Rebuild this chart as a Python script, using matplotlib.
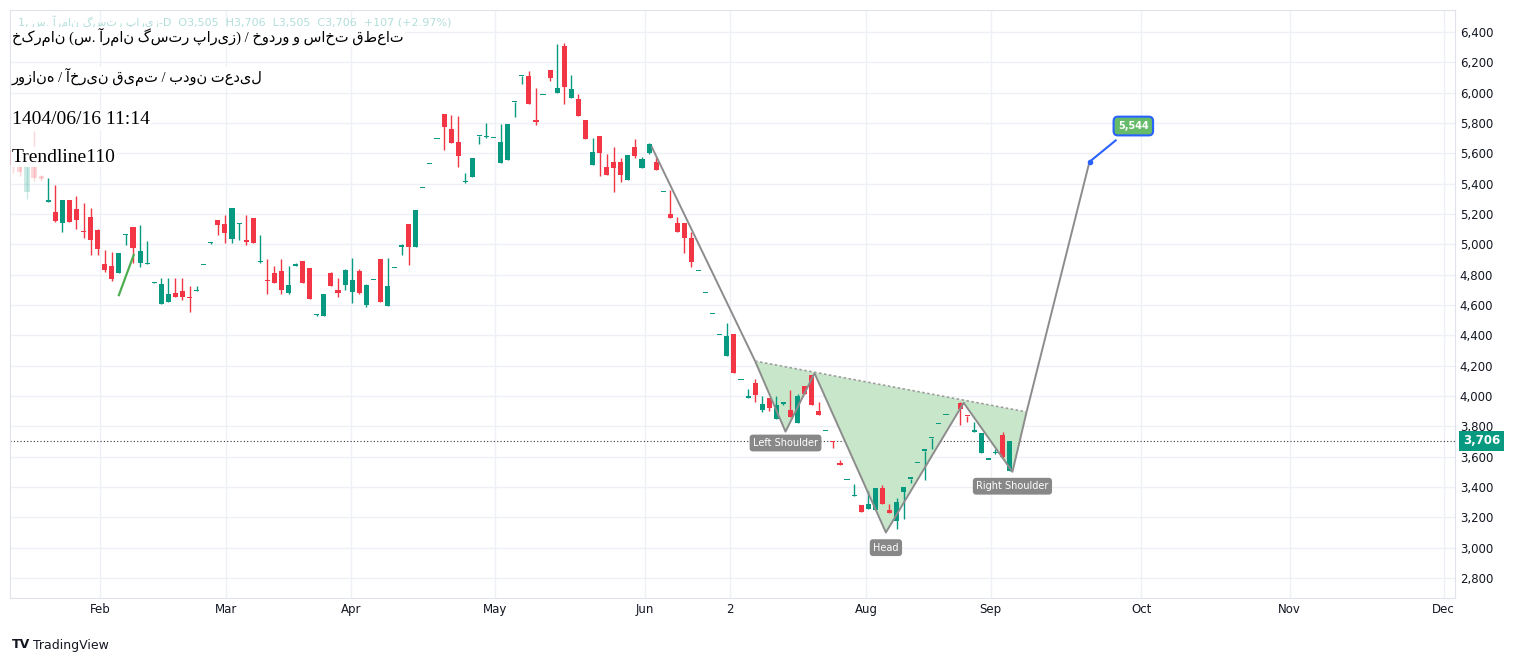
import numpy as np
import matplotlib
matplotlib.use("Agg")
import matplotlib.pyplot as plt
from matplotlib.patches import Polygon, Rectangle

# daily candles, one per trading bar (bar index = list position)
opens = [5620, 5520, 5345, 5560, 5450, 5280, 5210, 5140, 5290, 5230, 5090, 5180, 5095, 4870, 4860, 4810, 5060, 5115, 4880, 4870,
         4745, 4605, 4620, 4680, 4690, 4650, 4690, 4865, 5010, 5160, 5135, 5035, 5135, 5030, 5175, 4885, 4760, 4810, 4825, 4680,
         4860, 4890, 4845, 4535, 4530, 4810, 4700, 4730, 4685, 4825, 4600, 4765, 4905, 4595, 4845, 4985, 5135, 4985, 5370, 5530,
         5695, 5860, 5760, 5675, 5410, 5445, 5715, 5705, 5700, 5535, 5555, 5940, 6110, 6110, 5820, 5985, 6150, 5995, 6310, 5965,
         5960, 5820, 5520, 5715, 5510, 5545, 5545, 5425, 5640, 5505, 5600, 5545, 5345, 5200, 5140, 5140, 5040, 4825, 4680, 4540,
         4400, 4265, 4410, 4105, 3990, 4085, 3910, 3985, 3850, 3950, 3910, 3820, 4065, 4140, 3900, 3770, 3700, 3560, 3445, 3340,
         3280, 3255, 3245, 3395, 3250, 3175, 3365, 3455, 3560, 3640, 3720, 3815, 3875, np.nan, 3955, 3870, 3765, 3625, 3580, 3625,
         3745, 3505]
highs = [5650, 5600, 5640, 5750, 5460, 5440, 5390, 5290, 5290, 5320, 5270, 5240, 5100, 4960, 4950, 4940, 5070, 5115, 5130, 5020,
         4750, 4780, 4780, 4780, 4780, 4725, 4725, 4865, 5015, 5160, 5195, 5240, 5140, 5195, 5175, 5060, 4905, 4860, 4900, 4860,
         4880, 4890, 4845, 4540, 4675, 4820, 4780, 4840, 4910, 4840, 4740, 4765, 4905, 4910, 4845, 5000, 5135, 5225, 5370, 5530,
         5695, 5860, 5850, 5845, 5470, 5570, 5715, 5800, 5700, 5795, 5795, 5940, 6110, 6140, 6030, 5985, 6150, 6320, 6330, 6115,
         5990, 5820, 5700, 5715, 5595, 5640, 5570, 5590, 5695, 5575, 5665, 5570, 5345, 5355, 5180, 5140, 5080, 4825, 4680, 4540,
         4400, 4480, 4410, 4105, 4045, 4110, 4000, 3985, 4000, 3960, 4040, 4010, 4065, 4140, 3960, 3770, 3700, 3580, 3445, 3420,
         3280, 3375, 3395, 3410, 3290, 3330, 3400, 3455, 3560, 3640, 3720, 3815, 3875, np.nan, 3960, 3870, 3830, 3755, 3580, 3650,
         3760, 3706]
lows = [5470, 5450, 5300, 5420, 5420, 5280, 5150, 5080, 5150, 5100, 5040, 4930, 4930, 4820, 4760, 4810, 4995, 4880, 4850, 4870,
        4745, 4605, 4620, 4650, 4630, 4555, 4690, 4865, 5005, 5060, 5010, 5010, 5030, 4995, 5010, 4880, 4670, 4745, 4670, 4670,
        4860, 4745, 4640, 4530, 4530, 4725, 4650, 4700, 4610, 4670, 4590, 4765, 4620, 4595, 4845, 4930, 4865, 4985, 5370, 5530,
        5695, 5625, 5670, 5510, 5405, 5445, 5660, 5700, 5700, 5535, 5555, 5840, 6055, 5925, 5790, 5985, 6080, 5995, 5925, 5965,
        5845, 5695, 5520, 5450, 5455, 5345, 5410, 5425, 5570, 5500, 5595, 5490, 5345, 5175, 5080, 4940, 4850, 4825, 4680, 4540,
        4400, 4265, 4150, 4105, 3990, 3960, 3895, 3900, 3850, 3940, 3860, 3820, 4015, 3940, 3875, 3770, 3660, 3545, 3445, 3340,
        3235, 3255, 3245, 3290, 3230, 3120, 3190, 3425, 3560, 3445, 3650, 3815, 3875, np.nan, 3810, 3830, 3765, 3625, 3580, 3620,
        3590, 3505]
closes = [5520, 5480, 5620, 5440, 5430, 5290, 5155, 5290, 5150, 5160, 5080, 5030, 4970, 4830, 4770, 4940, 5060, 4975, 4955, 4875,
          4745, 4740, 4675, 4655, 4650, 4645, 4700, 4865, 5012, 5125, 5075, 5240, 5140, 5015, 5010, 4890, 4755, 4745, 4700, 4730,
          4870, 4745, 4640, 4535, 4675, 4725, 4680, 4830, 4765, 4680, 4730, 4765, 4620, 4725, 4845, 4985, 4985, 5225, 5370, 5530,
          5695, 5775, 5670, 5585, 5410, 5570, 5715, 5705, 5700, 5675, 5795, 5940, 6110, 5925, 5805, 5985, 6095, 6030, 6040, 6025,
          5845, 5695, 5610, 5600, 5455, 5505, 5455, 5590, 5585, 5565, 5660, 5490, 5345, 5175, 5080, 5040, 4885, 4825, 4680, 4540,
          4400, 4395, 4150, 4105, 3995, 4005, 3950, 3920, 3940, 3955, 3860, 4000, 4015, 3940, 3875, 3770, 3695, 3545, 3445, 3345,
          3235, 3290, 3395, 3290, 3230, 3300, 3400, 3455, 3560, 3640, 3720, 3815, 3875, np.nan, 3915, 3865, 3770, 3755, 3580, 3630,
          3595, 3706]

# inverse head and shoulders drawing (bar index, price)
pattern_x = [90.4, 105.0, 109.3, 113.4, 123.5, 134.5, 141.4, 143.4, 152.3]
pattern_y = [5640, 4230, 3765, 4150, 3100, 3955, 3500, 3895, 5545]
small_trend_x = [15.0, 17.1]
small_trend_y = [4665, 4930]

month_labels = ["Feb", "Mar", "Apr", "May", "Jun", "2", "Aug", "Sep", "Oct", "Nov", "Dec"]
month_pos = [12.3, 30.1, 47.9, 68.2, 89.4, 101.4, 120.7, 138.3, 159.6, 180.6, 202.4]
price_ticks = list(range(2800, 6401, 200))
last_price = 3706
target_price = 5544

GREEN = "#089981"
RED = "#f23645"

fig = plt.figure(figsize=(15.16, 6.63), dpi=100)
ax = fig.add_axes([10 / 1516, 1 - 598 / 663, 1445 / 1516, 588 / 663])
ax.set_xlim(-0.4, 204)
ax.set_ylim(2668, 6545)

for i in range(len(opens)):
    o, h, l, c = opens[i], highs[i], lows[i], closes[i]
    if np.isnan(o):
        continue
    col = GREEN if c >= o else RED
    alpha = 0.2 if i < 5 else 1.0
    ax.vlines(i, l, h, color=col, lw=1, alpha=alpha, zorder=3)
    body = max(abs(c - o), 8)
    ax.add_patch(Rectangle((i - 0.36, min(o, c)), 0.72, body, color=col, alpha=alpha, lw=0, zorder=3))

# pattern fill + lines
poly = list(zip(pattern_x[1:8], pattern_y[1:8]))
ax.add_patch(Polygon(poly, closed=True, facecolor="#c8e6c9", edgecolor="none", zorder=2))
ax.plot(pattern_x, pattern_y, color="#8c8c8c", lw=1.4, zorder=4)
ax.plot([pattern_x[1], pattern_x[7]], [pattern_y[1], pattern_y[7]], color="#9e9e9e", lw=1.2, ls=(0, (1.5, 1.5)), zorder=4)
ax.plot(small_trend_x, small_trend_y, color="#4caf50", lw=1.6, zorder=4)

box = dict(boxstyle="round,pad=0.35", fc="#888888", ec="none")
ax.text(pattern_x[2], 3690, "Left Shoulder", color="white", fontsize=7, ha="center", va="center", bbox=box, zorder=5)
ax.text(pattern_x[4], 3000, "Head", color="white", fontsize=7, ha="center", va="center", bbox=box, zorder=5)
ax.text(pattern_x[6], 3405, "Right Shoulder", color="white", fontsize=7, ha="center", va="center", bbox=box, zorder=5)

# target label
ax.plot([pattern_x[8], 156.0], [target_price, 5685], color="#2962ff", lw=1.5, zorder=5)
ax.plot(pattern_x[8], target_price, "o", color="#2962ff", ms=3, zorder=6)
ax.text(158.5, 5780, f"{target_price:,}", color="white", fontsize=7, fontweight="bold", ha="center", va="center",
        bbox=dict(boxstyle="round,pad=0.45", fc="#66bb6a", ec="#2962ff", lw=1.5), zorder=6)

# last price line
ax.axhline(last_price, color="#333333", lw=0.8, ls=(0, (1, 2)), zorder=1)

ax.set_xticks(month_pos)
ax.set_xticklabels(month_labels)
ax.set_yticks(price_ticks)
ax.set_yticklabels([f"{p:,}" for p in price_ticks])
ax.yaxis.tick_right()
ax.tick_params(length=0, labelsize=8.5, colors="#131722")
ax.grid(True, color="#eef0f5", lw=1)
for s in ax.spines.values():
    s.set_color("#e0e3eb")
ax.set_axisbelow(True)

ax.text(1.0 + 8 / 1445, (last_price - 2668) / (6545 - 2668), f"{last_price:,}", transform=ax.transAxes,
        color="white", fontsize=8.5, fontweight="bold", va="center", ha="left",
        bbox=dict(boxstyle="square,pad=0.3", fc=GREEN, ec="none"))

fam = ["Liberation Serif", "DejaVu Sans"]
bg = dict(fc="white", ec="none", pad=1)
fig.text(18 / 1516, 1 - 22 / 663, "1, س. آرمان گستر پاریز-D  O3,505  H3,706  L3,505  C3,706  +107 (+2.97%)",
         fontsize=8, color="#b2dfdb", va="center")
fig.text(12 / 1516, 1 - 37 / 663, "خکرمان (س. آرمان گستر پاریز) / خودرو و ساخت قطعات", fontsize=10.5,
         family=fam, va="center", bbox=bg)
fig.text(12 / 1516, 1 - 77 / 663, "روزانه / آخرین قیمت / بدون تعدیل", fontsize=10.5, family=fam, va="center", bbox=bg)
fig.text(12 / 1516, 1 - 120 / 663, "1404/06/16 11:14", fontsize=14, family=fam, va="center", bbox=bg)
fig.text(12 / 1516, 1 - 157 / 663, "Trendline110", fontsize=14, family=fam, va="center", bbox=bg)

fig.text(12 / 1516, 1 - 645 / 663, "TV", fontsize=9, fontweight="bold", color="#131722", va="center")
fig.text(33 / 1516, 1 - 645 / 663, "TradingView", fontsize=9, color="#131722", va="center")

fig.savefig("out.png", dpi=100)
